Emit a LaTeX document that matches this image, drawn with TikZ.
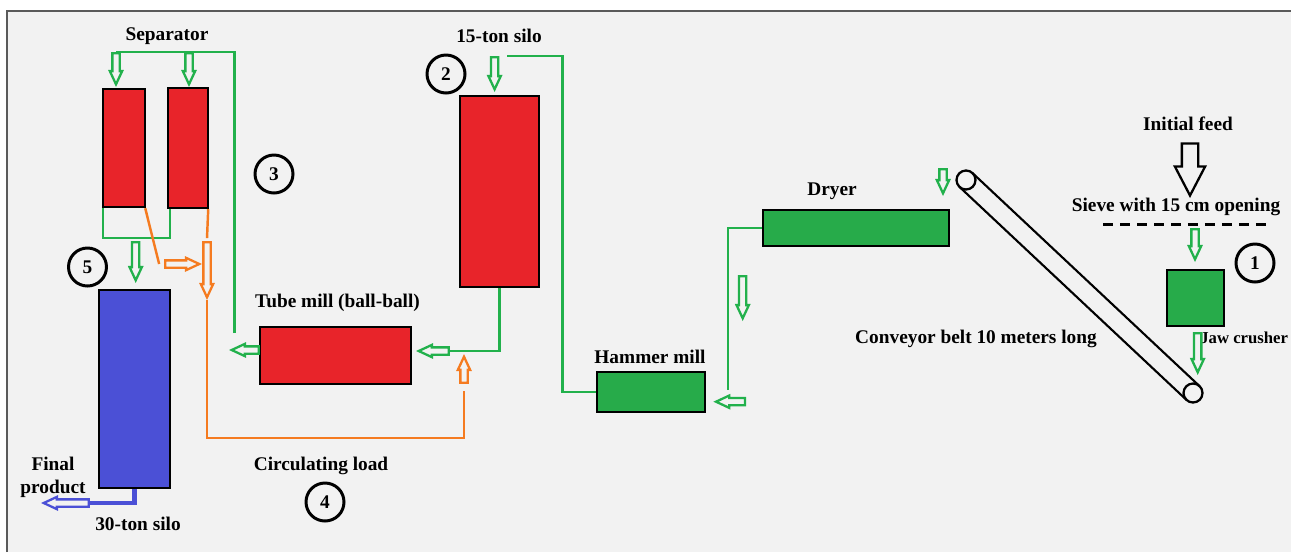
\documentclass[tikz,border=0pt]{standalone}
\usepackage{fontspec}
\setmainfont{Liberation Serif}
\usepackage{tikz}
\usetikzlibrary{arrows.meta,positioning,calc,shapes.arrows}
\definecolor{ink}{HTML}{000000}
\definecolor{paper}{HTML}{F2F2F2}
\definecolor{frame}{HTML}{5A5A5A}
\definecolor{redf}{HTML}{E8242A}
\definecolor{greenf}{HTML}{27AB4A}
\definecolor{flowg}{HTML}{22B14C}
\definecolor{bluef}{HTML}{4B50D6}
\definecolor{orng}{HTML}{F57B20}
\tikzset{
  unit/.style={draw=ink,line width=1.4pt,inner sep=0pt},
  redunit/.style={unit,fill=redf},
  greenunit/.style={unit,fill=greenf},
  blueunit/.style={unit,fill=bluef},
  lbl/.style={font=\fontsize{11}{13}\selectfont\bfseries,inner sep=1pt,align=center},
  num/.style={circle,draw=ink,line width=1.7pt,minimum size=0.76cm,inner sep=0pt,font=\fontsize{11}{13}\selectfont\bfseries},
  harrow/.style={single arrow,draw=#1,fill=paper,line width=1.3pt,inner sep=0.05cm,single arrow head extend=0.05cm,single arrow tip angle=50,anchor=tip},
  feedarrow/.style={single arrow,draw=ink,fill=paper,line width=1.3pt,inner sep=0.14cm,single arrow head extend=0.14cm,single arrow tip angle=55,anchor=tip},
  gline/.style={draw=flowg,line width=1.4pt},
  oline/.style={draw=orng,line width=1.4pt},
  bline/.style={draw=bluef,line width=2.8pt},
  roller/.style={circle,draw=ink,line width=1.3pt,minimum size=0.38cm,inner sep=0pt,fill=paper},
  belt/.style={draw=ink,line width=1.2pt},
  sieve/.style={draw=ink,line width=1.7pt,dash pattern=on 0.2cm off 0.14cm}
}
\begin{document}
\begin{tikzpicture}[x=0.02cm,y=-0.02cm]
  \useasboundingbox (0,0) rectangle (1291,552);
  \fill[white] (0,0) rectangle (1291,552);
  \fill[paper] (7,11) rectangle (1291,552);
  \draw[frame,line width=0.8pt] (7,552) -- (7,11) -- (1291,11);

  \node[redunit,minimum width=0.84cm,minimum height=2.36cm] (sepL) at (124,148) {};
  \node[redunit,minimum width=0.80cm,minimum height=2.40cm] (sepR) at (188,148) {};
  \node[blueunit,minimum width=1.42cm,minimum height=3.96cm] (silo30) at (134.5,389) {};
  \node[redunit,minimum width=3.02cm,minimum height=1.14cm] (tube) at (335.5,355.5) {};
  \node[redunit,minimum width=1.58cm,minimum height=3.82cm] (silo15) at (499.5,191.5) {};
  \node[greenunit,minimum width=2.16cm,minimum height=0.80cm] (hammer) at (651,392) {};
  \node[greenunit,minimum width=3.72cm,minimum height=0.72cm] (dryer) at (856,228) {};
  \node[greenunit,minimum width=1.14cm,minimum height=1.12cm] (jaw) at (1195.5,298) {};

  \node[lbl] (seplbl) at (167,36) {Separator};
  \node[lbl] (s15lbl) at (499,36) {15-ton silo};
  \node[lbl] (tubelbl) at (337.5,303) {Tube mill (ball-ball)};
  \node[lbl] (hamlbl) at (650,357) {Hammer mill};
  \node[lbl] (drylbl) at (832,191) {Dryer};
  \node[lbl] (beltlbl) at (976,339) {Conveyor belt 10 meters long};
  \node[lbl] (feedlbl) at (1188,124) {Initial feed};
  \node[lbl] (sievelbl) at (1176,207) {Sieve with 15 cm opening};
  \node[anchor=west,inner sep=0pt,font=\fontsize{9.5}{11}\selectfont\bfseries] (jawlbl) at (1200,338) {Jaw crusher};
  \node[lbl] (circlbl) at (321,466) {Circulating load};
  \node[lbl] (finlbl) at (53,477) {Final\\product};
  \node[lbl] (s30lbl) at (138,524) {30-ton silo};

  \node[num] (n1) at (1255,263) {1};
  \node[num] (n2) at (446,74) {2};
  \node[num] (n3) at (274,174) {3};
  \node[num] (n4) at (325,502) {4};
  \node[num] (n5) at (87.5,267) {5};

  \node[harrow=flowg,rotate=-90,minimum height=0.62cm] (inSL) at (116,87) {};
  \node[harrow=flowg,rotate=-90,minimum height=0.62cm] (inSR) at (189,87) {};
  \node[harrow=flowg,rotate=-90,minimum height=0.76cm] (in30) at (135.7,283) {};
  \node[harrow=flowg,rotate=180,minimum height=0.54cm] (tubeOut) at (229,350) {};
  \node[harrow=flowg,rotate=180,minimum height=0.60cm] (tubeIn) at (416,351) {};
  \node[harrow=flowg,rotate=-90,minimum height=0.64cm] (in15) at (494.6,92) {};
  \node[harrow=flowg,rotate=180,minimum height=0.58cm] (hamIn) at (713.3,401.7) {};
  \node[harrow=flowg,rotate=-90,minimum height=0.84cm] (dryDown) at (742.7,321) {};
  \node[harrow=flowg,rotate=-90,minimum height=0.48cm] (dryIn) at (943,196) {};
  \node[harrow=flowg,rotate=-90,minimum height=0.60cm] (jawIn) at (1195,262) {};
  \node[harrow=flowg,rotate=-90,minimum height=0.78cm] (jawOut) at (1197.7,375) {};
  \node[harrow=orng,minimum height=0.68cm] (oRight) at (202,264) {};
  \node[harrow=orng,rotate=-90,minimum height=1.10cm] (oDown) at (207,300) {};
  \node[harrow=orng,rotate=90,minimum height=0.52cm] (oUp) at (464,354) {};
  \node[harrow=bluef,rotate=180,minimum height=0.9cm] (bout) at (41,503) {};
  \node[feedarrow,rotate=-90,minimum height=1.04cm] (feed) at (1190,198) {};

  \coordinate (ret) at (234.6,333);
  \coordinate (liftT) at (562.7,56);
  \coordinate (liftE) at (507,56);
  \coordinate (dryB) at (728,390);
  \coordinate (sv1) at (1103,224);
  \coordinate (sv2) at (1269,224);

  \draw[gline] (ret) |- (inSL.tail);
  \draw[gline] ($(sepL.south west)+(1,0)$) -- ++(0,30) -| ($(sepR.south west)+(3,0)$);
  \draw[gline] (silo15.south) |- (tubeIn.tail);
  \draw[gline] (hammer.west) -| (liftT) -- (liftE);
  \draw[gline] (dryer.west) -| (dryB);
  \draw[oline] ($(sepL.south east)+(-1,0)$) -- ($(oRight.tail)+(-5,0)$);
  \draw[oline] ($(sepR.south east)+(-1,0)$) -- ($(oDown.tail)+(0,-3)$);
  \draw[oline] (oDown.tip) -- ++(0,138) -| ($(oUp.tail)+(0,7)$);
  \draw[bline] (silo30.south) |- (bout.tail);
  \draw[sieve] (sv1) -- (sv2);

  \node[roller] (rollT) at (966,180) {};
  \node[roller] (rollB) at (1193,393) {};
  \draw[belt] ($(rollT.center)!0.19cm!90:(rollB.center)$) -- ($(rollB.center)!0.19cm!-90:(rollT.center)$);
  \draw[belt] ($(rollT.center)!0.19cm!-90:(rollB.center)$) -- ($(rollB.center)!0.19cm!90:(rollT.center)$);
\end{tikzpicture}
\end{document}
